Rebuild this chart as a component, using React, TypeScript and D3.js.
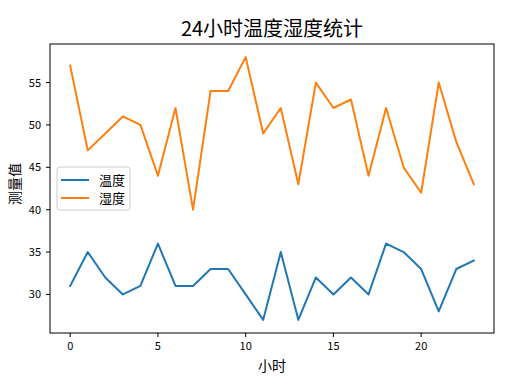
import React from "react";
import * as d3 from "d3";

const hours: number[] = Array.from({ length: 24 }, (_, i) => i);
const temperature: number[] = [31, 35, 32, 30, 31, 36, 31, 31, 33, 33, 30, 27, 35, 27, 32, 30, 32, 30, 36, 35, 33, 28, 33, 34];
const humidity: number[] = [57, 47, 49, 51, 50, 44, 52, 40, 54, 54, 58, 49, 52, 43, 55, 52, 53, 44, 52, 45, 42, 55, 48, 43];
const xTicks: number[] = [0, 5, 10, 15, 20];
const yTicks: number[] = [30, 35, 40, 45, 50, 55];
const seriesNames: string[] = ["温度", "湿度"];
const colors: string[] = ["#1f77b4", "#ff7f0e"];

const W = 518, H = 376;
const left = 50, right = 494, top = 44, bottom = 333;
const FONT = "'Noto Sans CJK SC', 'DejaVu Sans', sans-serif";

export default function App() {
  const x = d3.scaleLinear().domain([-1.15, 24.15]).range([left, right]);
  const all = [...temperature, ...humidity];
  const mn = d3.min(all)!, mx = d3.max(all)!;
  const pad = (mx - mn) * 0.05;
  const y = d3.scaleLinear().domain([mn - pad, mx + pad]).range([bottom, top]);
  const line = d3.line<number>().x((_, i) => x(hours[i])).y((d) => y(d));
  const series = [temperature, humidity];
  return (
    <svg width={W} height={H} style={{ position: "absolute", left: 0, top: 0, background: "#fff" }} fontFamily={FONT}>
      <rect x={0} y={0} width={W} height={H} fill="#fff" />
      <text x={(left + right) / 2} y={36} textAnchor="middle" fontSize={20} fill="#000">24小时温度湿度统计</text>
      {series.map((s, k) => (
        <path key={k} d={line(s)!} fill="none" stroke={colors[k]} strokeWidth={2} strokeLinejoin="round" strokeLinecap="square" />
      ))}
      <rect x={left} y={top} width={right - left} height={bottom - top} fill="none" stroke="#000" strokeWidth={1} />
      {xTicks.map((t) => (
        <g key={t}>
          <line x1={x(t)} x2={x(t)} y1={bottom} y2={bottom + 4} stroke="#000" />
          <text x={x(t)} y={bottom + 17} textAnchor="middle" fontSize={11} fill="#000">{t}</text>
        </g>
      ))}
      {yTicks.map((t) => (
        <g key={t}>
          <line x1={left - 4} x2={left} y1={y(t)} y2={y(t)} stroke="#000" />
          <text x={left - 9} y={y(t) + 4} textAnchor="end" fontSize={11} fill="#000">{t}</text>
        </g>
      ))}
      <text x={(left + right) / 2} y={371} textAnchor="middle" fontSize={14} fill="#000">小时</text>
      <text transform={`translate(20,184) rotate(-90)`} textAnchor="middle" fontSize={14} fill="#000">测量值</text>
      <g>
        <rect x={57} y={167} width={73} height={43} rx={3} fill="#fff" fillOpacity={0.8} stroke="#ccc" />
        {seriesNames.map((n, k) => (
          <g key={n}>
            <line x1={61} x2={89} y1={180 + k * 18} y2={180 + k * 18} stroke={colors[k]} strokeWidth={2} />
            <text x={99} y={185 + k * 18} fontSize={13} fill="#000">{n}</text>
          </g>
        ))}
      </g>
    </svg>
  );
}
